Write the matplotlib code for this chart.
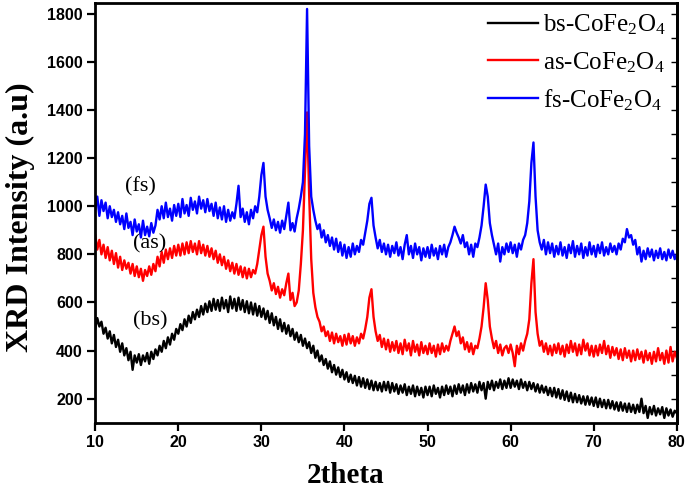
import numpy as np
import matplotlib
matplotlib.use("Agg")
import matplotlib.pyplot as plt

# 2theta sampling (deg) and intensities
two_theta = np.arange(10.0, 80.001, 0.25)

bs = [490, 535, 500, 520, 470, 495, 450, 480, 430, 465, 415, 445, 395, 430, 380, 410, 360, 395, 320, 380,
      350, 385, 340, 380, 355, 390, 345, 395, 365, 405, 380, 420, 395, 440, 410, 455, 425, 470, 445, 490,
      470, 510, 485, 530, 500, 545, 515, 560, 530, 570, 540, 585, 550, 595, 560, 605, 565, 615, 570, 610,
      565, 620, 575, 610, 560, 625, 575, 615, 565, 620, 570, 610, 560, 605, 555, 600, 550, 595, 545, 585,
      540, 575, 530, 565, 515, 555, 505, 540, 490, 530, 480, 515, 470, 505, 460, 490, 445, 475, 435, 465,
      420, 450, 410, 435, 390, 420, 370, 400, 355, 380, 340, 365, 325, 355, 310, 340, 300, 330, 290, 320,
      280, 310, 270, 300, 265, 295, 255, 290, 250, 285, 245, 280, 240, 275, 235, 270, 235, 265, 230, 270,
      235, 270, 225, 265, 230, 260, 220, 255, 225, 260, 215, 250, 220, 255, 210, 250, 215, 245, 205, 250,
      215, 250, 210, 255, 220, 245, 205, 250, 215, 255, 220, 250, 210, 255, 220, 260, 225, 255, 215, 260,
      225, 265, 230, 260, 225, 270, 235, 265, 200, 270, 240, 275, 235, 270, 245, 280, 240, 275, 245, 285,
      245, 280, 250, 275, 240, 280, 245, 270, 235, 270, 240, 265, 230, 260, 225, 255, 225, 250, 215, 245,
      210, 245, 205, 240, 200, 235, 195, 230, 190, 225, 185, 220, 185, 215, 180, 210, 175, 210, 175, 205,
      170, 205, 165, 200, 165, 195, 160, 195, 160, 190, 155, 185, 150, 185, 150, 180, 145, 180, 145, 175,
      140, 175, 145, 200, 140, 170, 120, 165, 135, 170, 130, 160, 135, 165, 120, 160, 130, 155, 125, 150,
      140]

as_ = [880, 820, 860, 800, 840, 785, 830, 775, 815, 760, 805, 745, 790, 735, 775, 740, 765, 720, 760, 710,
       750, 705, 740, 690, 735, 710, 750, 715, 760, 730, 790, 750, 810, 765, 820, 780, 825, 785, 835, 795,
       840, 795, 845, 800, 850, 805, 855, 810, 845, 800, 855, 805, 840, 795, 835, 790, 825, 780, 815, 765,
       800, 755, 790, 740, 775, 730, 765, 720, 760, 715, 750, 705, 745, 700, 740, 705, 735, 720, 760, 820,
       880, 915, 790, 720, 690, 650, 680, 635, 665, 620, 655, 630, 680, 720, 610, 640, 585, 600, 650, 760,
       900, 1150, 1390, 1050, 780, 640, 580, 540, 520, 480, 500, 460, 480, 440, 475, 430, 470, 435, 460, 420,
       465, 425, 470, 430, 460, 420, 455, 430, 470, 450, 490, 540, 620, 655, 540, 480, 440, 465, 415, 450,
       405, 445, 395, 435, 400, 440, 390, 430, 385, 445, 400, 430, 380, 440, 395, 425, 380, 435, 390, 420,
       385, 430, 390, 420, 375, 425, 385, 430, 395, 420, 400, 440, 470, 500, 460, 480, 430, 455, 405, 435,
       395, 430, 385, 420, 410, 450, 500, 580, 680, 610, 500, 450, 410, 440, 390, 425, 380, 410, 420, 390,
       425, 390, 335, 420, 385, 430, 400, 440, 470, 530, 680, 780, 560, 470, 420, 440, 395, 430, 385, 420,
       380, 425, 390, 430, 385, 420, 375, 425, 390, 440, 395, 430, 380, 425, 385, 445, 400, 430, 380, 420,
       375, 420, 380, 425, 390, 440, 385, 420, 370, 415, 380, 410, 365, 405, 360, 410, 370, 400, 355, 400,
       360, 405, 365, 395, 350, 400, 360, 390, 345, 395, 355, 410, 360, 390, 345, 400, 350, 415, 355, 395,
       370]

fs = [990, 1040, 960, 1025, 980, 1015, 950, 1000, 955, 985, 935, 975, 925, 960, 905, 970, 910, 935, 880, 945,
      895, 925, 870, 940, 880, 915, 875, 930, 890, 920, 985, 945, 1000, 950, 1015, 955, 990, 940, 1005, 960,
      1010, 955, 1030, 970, 1005, 960, 1035, 985, 1020, 970, 1040, 990, 1025, 975, 1030, 980, 1010, 960, 1015, 950,
      995, 945, 1000, 935, 985, 940, 975, 950, 1010, 1085, 955, 990, 935, 975, 925, 985, 950, 1000, 975, 1040,
      1130, 1180, 1040, 985, 950, 910, 945, 900, 935, 890, 940, 905, 960, 1015, 900, 930, 895, 950, 990, 1040,
      1100, 1300, 1820, 1250, 1040, 985, 940, 905, 925, 870, 900, 850, 880, 835, 870, 820, 865, 810, 850, 795,
      840, 785, 830, 790, 845, 800, 835, 810, 860, 840, 890, 940, 1010, 1035, 920, 870, 825, 860, 810, 845,
      800, 840, 790, 835, 805, 850, 795, 830, 780, 840, 880, 800, 835, 785, 845, 800, 830, 775, 825, 790,
      830, 785, 840, 795, 825, 780, 835, 800, 840, 790, 830, 850, 880, 915, 890, 870, 845, 880, 830, 850,
      800, 840, 790, 845, 830, 870, 920, 1000, 1090, 1040, 930, 880, 840, 800, 845, 770, 830, 800, 845, 810,
      850, 805, 840, 790, 845, 820, 860, 880, 930, 1020, 1180, 1265, 1040, 900, 850, 820, 860, 800, 850, 805,
      845, 790, 835, 800, 850, 795, 830, 785, 840, 805, 855, 790, 835, 800, 845, 785, 830, 795, 850, 800,
      835, 790, 840, 805, 850, 795, 830, 800, 845, 810, 835, 800, 845, 820, 865, 850, 905, 870, 880, 840,
      860, 800, 830, 770, 815, 780, 825, 790, 820, 775, 815, 785, 825, 780, 810, 775, 820, 785, 815, 780,
      800]

labels = ["bs-CoFe$_2$O$_4$", "as-CoFe$_2$O$_4$", "fs-CoFe$_2$O$_4$"]
tags = ["(bs)", "(as)", "(fs)"]

plt.rcParams['mathtext.fontset'] = 'custom'
plt.rcParams['mathtext.rm'] = 'Liberation Serif'
plt.rcParams['mathtext.it'] = 'Liberation Serif:italic'

fig = plt.figure(figsize=(6.85, 4.91), dpi=100)
ax = fig.add_axes([0.139, 0.139, 0.849, 0.855])

ax.plot(two_theta, bs, color='black', lw=1.7, label=labels[0])
ax.plot(two_theta, as_, color='red', lw=1.7, label=labels[1])
ax.plot(two_theta, fs, color='blue', lw=1.7, label=labels[2])

ax.set_xlim(10, 80)
ax.set_ylim(100, 1845)
ax.set_xticks(np.arange(10, 81, 10))
ax.set_yticks(np.arange(200, 1801, 200))

for side in ax.spines.values():
    side.set_linewidth(2.0)
ax.tick_params(axis='both', direction='out', length=6, width=1.6, pad=3)
for t in ax.get_xticklabels() + ax.get_yticklabels():
    t.set_fontfamily('Liberation Sans')
    t.set_fontweight('bold')
    t.set_fontsize(11.5)

# small inward ticks on the right frame
sec = ax.secondary_yaxis('right')
sec.set_yticks(np.arange(200, 1801, 100))
sec.tick_params(direction='in', length=4, width=1.0, labelright=False)
sec.spines['right'].set_linewidth(2.0)

# sample tags next to the curves
ax.text(15.4, 1079, tags[2], fontsize=16, family='Liberation Serif', ha='center', va='center')
ax.text(16.6, 843, tags[1], fontsize=16, family='Liberation Serif', ha='center', va='center')
ax.text(16.6, 523, tags[0], fontsize=16, family='Liberation Serif', ha='center', va='center')

ax.set_xlabel('2theta', fontsize=21, family='Liberation Serif', fontweight='bold')
ax.xaxis.set_label_coords(0.431, -0.093)
ax.set_ylabel('XRD Intensity (a.u)', fontsize=23, family='Liberation Serif', fontweight='bold')
ax.yaxis.set_label_coords(-0.104, 0.49)

ax.legend(loc='upper right', bbox_to_anchor=(1.02, 1.03), frameon=False,
          prop={'family': 'Liberation Serif', 'size': 18},
          handlelength=2.0, handletextpad=0.2, labelspacing=0.5)

fig.savefig('out.png', dpi=100)
